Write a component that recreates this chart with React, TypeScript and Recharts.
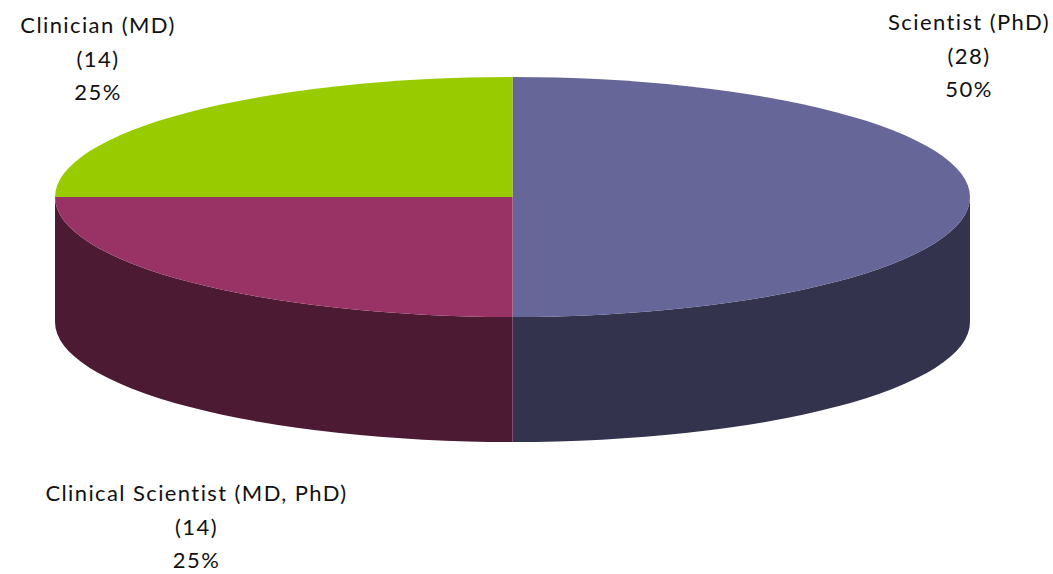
import { Pie, PieChart } from 'recharts';

const CATEGORIES = ['Scientist (PhD)', 'Clinical Scientist (MD, PhD)', 'Clinician (MD)'];
const COUNTS = [28, 14, 14];
const PERCENTS = ['50%', '25%', '25%'];
const TOP_COLORS = ['#666699', '#993366', '#99CC00'];
const WALL_COLORS = ['#33334D', '#4D1A33', '#4D6600'];

const WIDTH = 1053;
const HEIGHT = 574;
const CX = 512.5;
const CY = 197;
const RADIUS = 457.5;
const SQUASH = 120 / 457.5;
const DEPTH = 125;
const LINE_GAP = 33.5;

const LABEL_SPOTS = [
  { x: 969, y: 30 },
  { x: 196.5, y: 501 },
  { x: 98, y: 33 },
];

const topData = CATEGORIES.map((name, i) => ({ name, value: COUNTS[i], fill: TOP_COLORS[i] }));
const wallData = CATEGORIES.map((name, i) => ({ name, value: COUNTS[i], fill: WALL_COLORS[i] }));

const toRad = (deg: number) => (deg * Math.PI) / 180;

function rimPoint(cx: number, cy: number, r: number, deg: number) {
  return [cx + r * Math.cos(toRad(deg)), cy - r * SQUASH * Math.sin(toRad(deg))];
}

function arcTo(cx: number, cy: number, r: number, deg: number, sweepCw: boolean, large: boolean) {
  const [x, y] = rimPoint(cx, cy, r, deg);
  return `A ${r} ${r * SQUASH} 0 ${large ? 1 : 0} ${sweepCw ? 1 : 0} ${x} ${y}`;
}

// top face: a normal pie sector, flattened into an ellipse
function TopSlice(props: any) {
  const { cx, cy, outerRadius, startAngle, endAngle, fill } = props;
  const [sx, sy] = rimPoint(cx, cy, outerRadius, startAngle);
  const large = Math.abs(endAngle - startAngle) > 180;
  const d = `M ${cx} ${cy} L ${sx} ${sy} ${arcTo(cx, cy, outerRadius, endAngle, true, large)} Z`;
  return <path d={d} fill={fill} stroke="none" />;
}

// side wall: only the part of the slice on the front half of the rim shows
function WallSlice(props: any) {
  const { cx, cy, outerRadius, startAngle, endAngle, fill } = props;
  const from = Math.min(startAngle, 0);
  const to = Math.max(endAngle, -180);
  if (from <= to) return null;
  const [sx, sy] = rimPoint(cx, cy, outerRadius, from);
  const [ex, ey] = rimPoint(cx, cy, outerRadius, to);
  const d = [
    `M ${sx} ${sy}`,
    arcTo(cx, cy, outerRadius, to, true, false),
    `L ${ex} ${ey + DEPTH}`,
    arcTo(cx, cy + DEPTH, outerRadius, from, false, false),
    'Z',
  ].join(' ');
  const seam = rimPoint(cx, cy, outerRadius, -90);
  return (
    <g>
      <path d={d} fill={fill} stroke="none" />
      {from === -90 && (
        <path d={`M ${seam[0]} ${seam[1] + 4} V ${seam[1] + DEPTH}`} stroke="#7D4F72" strokeWidth={1} />
      )}
    </g>
  );
}

function SliceLabel(props: any) {
  const { index } = props;
  const spot = LABEL_SPOTS[index];
  const lines = [CATEGORIES[index], `(${COUNTS[index]})`, PERCENTS[index]];
  return (
    <text
      textAnchor="middle"
      fontFamily="Lato, sans-serif"
      fontSize={22}
      letterSpacing={1.4}
      fill="#111111"
    >
      {lines.map((line, i) => (
        <tspan key={line} x={spot.x} y={spot.y + i * LINE_GAP}>
          {line}
        </tspan>
      ))}
    </text>
  );
}

export default function App() {
  return (
    <div style={{ position: 'absolute', left: 0, top: 0, width: WIDTH, height: HEIGHT }}>
      <PieChart width={WIDTH} height={HEIGHT} margin={{ top: 0, right: 0, bottom: 0, left: 0 }}>
        <Pie
          data={wallData}
          dataKey="value"
          cx={CX}
          cy={CY}
          innerRadius={0}
          outerRadius={RADIUS}
          startAngle={90}
          endAngle={-270}
          paddingAngle={0}
          stroke="none"
          shape={WallSlice}
          isAnimationActive={false}
        />
        <Pie
          data={topData}
          dataKey="value"
          cx={CX}
          cy={CY}
          innerRadius={0}
          outerRadius={RADIUS}
          startAngle={90}
          endAngle={-270}
          paddingAngle={0}
          stroke="none"
          shape={TopSlice}
          label={SliceLabel}
          labelLine={false}
          isAnimationActive={false}
        />
      </PieChart>
    </div>
  );
}
